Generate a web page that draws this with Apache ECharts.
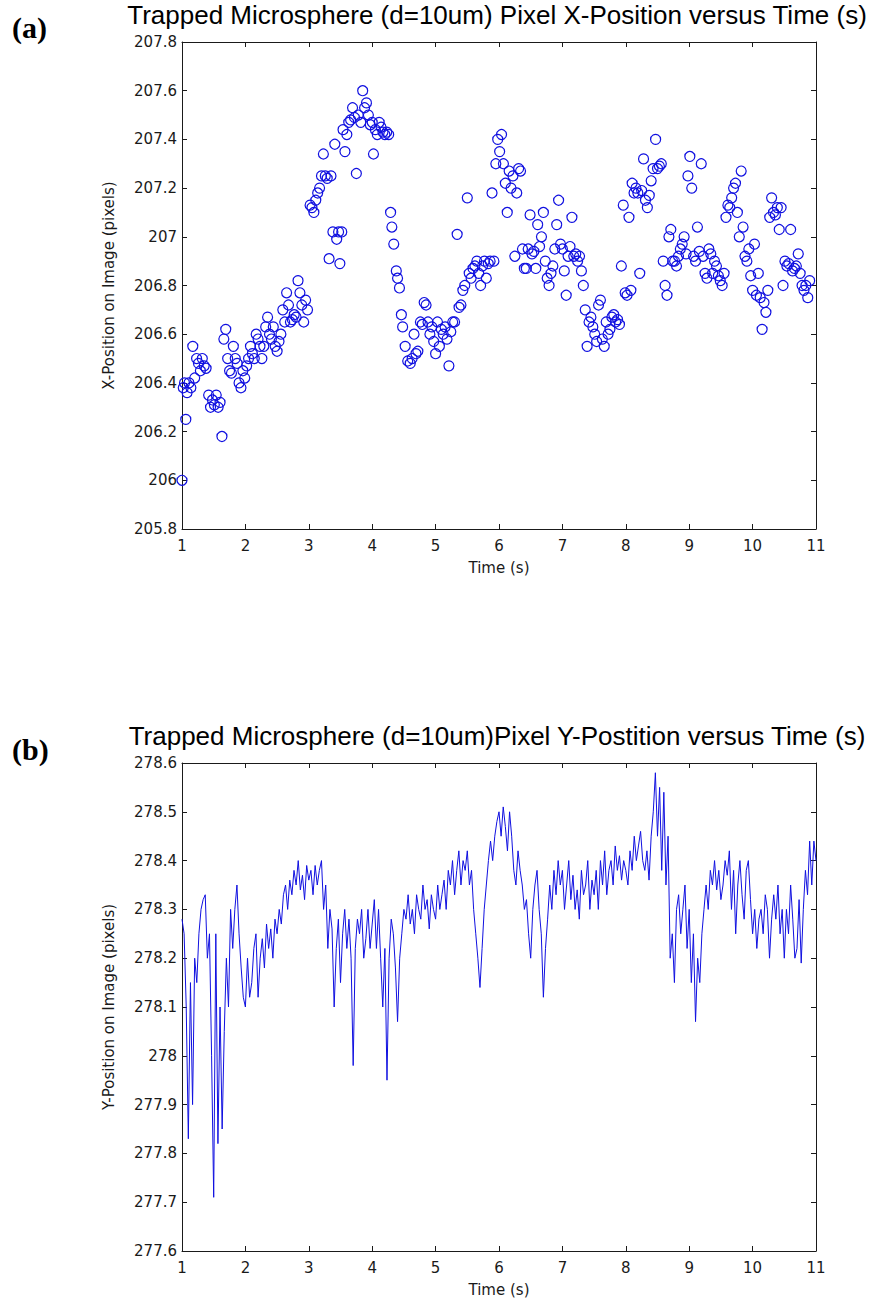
<!DOCTYPE html>
<html>
<head>
<meta charset="utf-8">
<style>
  html, body { margin: 0; padding: 0; background: #ffffff; }
  #chart { width: 875px; height: 1306px; }
</style>
<script src="https://cdn.jsdelivr.net/npm/echarts@6/dist/echarts.min.js"></script>
</head>
<body>
<div id="chart"></div>
<script>
// Panel (a): tracked X pixel position of the trapped bead, [time (s), x (px)]
const xPosition = [
  [1.00,206.00],[1.02,206.38],[1.04,206.40],[1.06,206.25],[1.08,206.36],[1.11,206.40],[1.14,206.38],[1.17,206.55],[1.20,206.42],[1.23,206.50],
  [1.26,206.48],[1.29,206.45],[1.32,206.50],[1.35,206.47],[1.38,206.46],[1.42,206.35],[1.45,206.30],[1.48,206.33],[1.51,206.31],[1.54,206.35],
  [1.57,206.30],[1.60,206.32],[1.63,206.18],[1.66,206.58],[1.69,206.62],[1.72,206.50],[1.75,206.45],[1.78,206.44],[1.81,206.55],[1.84,206.50],
  [1.87,206.48],[1.90,206.40],[1.93,206.38],[1.96,206.45],[1.99,206.42],[2.02,206.47],[2.05,206.50],[2.08,206.55],[2.11,206.52],[2.14,206.50],
  [2.17,206.60],[2.20,206.58],[2.23,206.55],[2.26,206.50],[2.29,206.55],[2.32,206.63],[2.35,206.67],[2.38,206.60],[2.41,206.58],[2.44,206.63],
  [2.47,206.55],[2.50,206.53],[2.53,206.57],[2.56,206.60],[2.59,206.70],[2.62,206.65],[2.65,206.77],[2.68,206.72],[2.71,206.65],[2.74,206.66],
  [2.77,206.68],[2.80,206.67],[2.83,206.82],[2.86,206.77],[2.89,206.72],[2.92,206.65],[2.95,206.74],[2.98,206.70],[3.02,207.13],[3.05,207.12],
  [3.08,207.10],[3.11,207.15],[3.14,207.18],[3.17,207.20],[3.20,207.25],[3.23,207.34],[3.26,207.25],[3.29,207.24],[3.32,206.91],[3.35,207.25],
  [3.38,207.02],[3.41,207.38],[3.44,206.99],[3.47,207.02],[3.49,206.89],[3.52,207.02],[3.54,207.44],[3.57,207.35],[3.60,207.42],[3.63,207.47],
  [3.66,207.48],[3.69,207.53],[3.72,207.49],[3.75,207.26],[3.78,207.50],[3.82,207.47],[3.85,207.60],[3.88,207.53],[3.91,207.55],[3.94,207.50],
  [3.97,207.46],[4.00,207.47],[4.02,207.34],[4.05,207.44],[4.08,207.42],[4.11,207.47],[4.14,207.45],[4.17,207.43],[4.20,207.42],[4.23,207.43],
  [4.26,207.42],[4.29,207.10],[4.31,207.04],[4.34,206.97],[4.38,206.86],[4.40,206.83],[4.43,206.79],[4.46,206.68],[4.48,206.63],[4.52,206.55],
  [4.56,206.49],[4.60,206.48],[4.63,206.50],[4.66,206.60],[4.69,206.52],[4.72,206.53],[4.76,206.65],[4.79,206.64],[4.82,206.73],[4.85,206.72],
  [4.88,206.65],[4.91,206.60],[4.94,206.63],[4.97,206.57],[5.00,206.52],[5.03,206.65],[5.06,206.55],[5.09,206.62],[5.12,206.60],[5.15,206.63],
  [5.18,206.58],[5.21,206.47],[5.24,206.61],[5.27,206.65],[5.30,206.65],[5.34,207.01],[5.37,206.71],[5.40,206.72],[5.43,206.78],[5.46,206.80],
  [5.50,207.16],[5.53,206.85],[5.56,206.83],[5.59,206.87],[5.62,206.88],[5.65,206.90],[5.68,206.85],[5.71,206.80],[5.74,206.88],[5.77,206.90],
  [5.80,206.83],[5.83,206.89],[5.86,206.90],[5.89,207.18],[5.92,206.90],[5.95,207.30],[5.98,207.40],[6.01,207.35],[6.04,207.42],[6.07,207.30],
  [6.10,207.22],[6.13,207.10],[6.16,207.27],[6.19,207.20],[6.22,207.25],[6.25,206.92],[6.28,207.18],[6.31,207.28],[6.34,207.27],[6.37,206.95],
  [6.40,206.87],[6.43,206.87],[6.46,206.95],[6.49,207.09],[6.52,206.93],[6.55,206.94],[6.58,206.87],[6.61,207.05],[6.64,206.96],[6.67,207.00],
  [6.70,207.10],[6.73,206.90],[6.76,206.83],[6.79,206.80],[6.82,206.85],[6.85,206.88],[6.88,206.95],[6.91,207.05],[6.94,207.15],[6.97,206.97],
  [7.00,206.95],[7.03,206.86],[7.06,206.76],[7.09,206.92],[7.12,206.96],[7.15,207.08],[7.18,206.92],[7.21,206.93],[7.24,206.90],[7.27,206.92],
  [7.30,206.86],[7.33,206.80],[7.36,206.70],[7.39,206.55],[7.42,206.65],[7.45,206.67],[7.48,206.63],[7.51,206.60],[7.54,206.57],[7.57,206.72],
  [7.60,206.74],[7.63,206.58],[7.66,206.55],[7.69,206.65],[7.72,206.60],[7.75,206.62],[7.78,206.67],[7.81,206.68],[7.84,206.65],[7.87,206.66],
  [7.90,206.64],[7.93,206.88],[7.96,207.13],[7.99,206.77],[8.02,206.76],[8.05,207.08],[8.08,206.78],[8.10,207.22],[8.13,207.18],[8.16,207.20],
  [8.19,207.18],[8.22,206.85],[8.25,207.19],[8.28,207.32],[8.31,207.15],[8.34,207.12],[8.37,207.17],[8.40,207.23],[8.43,207.28],[8.47,207.40],
  [8.50,207.28],[8.53,207.29],[8.56,207.30],[8.59,206.90],[8.62,206.80],[8.65,206.76],[8.68,207.00],[8.71,207.03],[8.74,206.90],[8.77,206.90],
  [8.80,206.88],[8.83,206.92],[8.86,206.95],[8.89,206.97],[8.92,207.00],[8.95,206.93],[8.98,207.25],[9.01,207.33],[9.04,207.20],[9.07,206.92],
  [9.10,206.90],[9.13,207.04],[9.16,206.94],[9.19,207.30],[9.22,206.92],[9.25,206.85],[9.28,206.83],[9.31,206.95],[9.34,206.93],[9.37,206.85],
  [9.40,206.90],[9.43,206.88],[9.46,206.84],[9.49,206.82],[9.52,206.80],[9.55,206.85],[9.58,207.08],[9.61,207.13],[9.64,207.12],[9.67,207.16],
  [9.70,207.20],[9.73,207.22],[9.76,207.10],[9.79,207.00],[9.82,207.27],[9.85,207.04],[9.88,206.92],[9.91,206.90],[9.94,206.95],[9.97,206.84],
  [10.00,206.78],[10.03,206.97],[10.06,206.76],[10.09,206.85],[10.12,206.75],[10.15,206.62],[10.18,206.73],[10.21,206.69],[10.24,206.78],[10.27,207.08],
  [10.30,207.16],[10.33,207.10],[10.36,207.09],[10.39,207.12],[10.42,207.03],[10.45,207.12],[10.48,206.80],[10.51,206.90],[10.54,206.88],[10.57,206.89],
  [10.60,207.03],[10.63,206.86],[10.66,206.87],[10.69,206.88],[10.72,206.93],[10.75,206.85],[10.78,206.80],[10.81,206.78],[10.84,206.80],[10.87,206.75],
  [10.90,206.82]
];

// Panel (b): tracked Y pixel position, one sample per video frame starting at t = 1 s
const frameRate = 30;
const startTime = 1;
const yPosition = [
  278.28,278.25,278.10,277.83,278.15,277.90,278.20,278.15,278.25,278.30,278.32,278.33,278.20,278.25,278.00,
  277.71,278.25,277.82,278.10,277.85,278.05,278.20,278.10,278.30,278.22,278.30,278.35,278.25,278.18,278.12,
  278.10,278.20,278.12,278.15,278.22,278.25,278.12,278.20,278.24,278.18,278.27,278.22,278.26,278.20,278.28,
  278.25,278.30,278.27,278.33,278.35,278.30,278.36,278.33,278.38,278.35,278.40,278.34,278.37,278.32,278.39,
  278.36,278.38,278.33,278.39,278.35,278.38,278.40,278.30,278.35,278.22,278.30,278.26,278.10,278.22,278.28,
  278.15,278.25,278.30,278.22,278.28,278.20,277.98,278.22,278.28,278.25,278.30,278.20,278.24,278.30,278.22,
  278.27,278.32,278.22,278.30,278.20,278.10,278.22,277.95,278.20,278.28,278.25,278.18,278.07,278.20,278.25,
  278.30,278.28,278.33,278.27,278.30,278.25,278.33,278.30,278.28,278.35,278.30,278.32,278.26,278.33,278.30,
  278.28,278.35,278.30,278.33,278.36,278.30,278.38,278.35,278.40,278.33,278.38,278.42,278.35,278.40,278.38,
  278.42,278.35,278.38,278.30,278.25,278.20,278.14,278.22,278.30,278.35,278.40,278.44,278.40,278.45,278.48,
  278.50,278.45,278.51,278.47,278.42,278.50,278.45,278.38,278.35,278.42,278.38,278.35,278.30,278.32,278.25,
  278.20,278.30,278.35,278.38,278.30,278.25,278.12,278.22,278.28,278.35,278.30,278.38,278.33,278.40,278.35,
  278.38,278.30,278.35,278.40,278.32,278.37,278.30,278.34,278.28,278.38,278.33,278.35,278.40,278.30,278.36,
  278.33,278.38,278.30,278.40,278.35,278.42,278.33,278.38,278.40,278.35,278.43,278.38,278.41,278.36,278.40,
  278.38,278.35,278.42,278.38,278.45,278.40,278.43,278.46,278.40,278.38,278.42,278.36,278.45,278.50,278.58,
  278.45,278.55,278.38,278.54,278.35,278.45,278.20,278.25,278.15,278.30,278.33,278.25,278.30,278.35,278.22,
  278.30,278.15,278.25,278.07,278.20,278.15,278.25,278.30,278.35,278.30,278.38,278.35,278.40,278.34,278.38,
  278.32,278.35,278.40,278.37,278.42,278.30,278.38,278.25,278.35,278.40,278.33,278.28,278.38,278.40,278.32,
  278.25,278.30,278.22,278.28,278.30,278.25,278.33,278.30,278.20,278.28,278.33,278.28,278.35,278.25,278.30,
  278.20,278.30,278.25,278.35,278.28,278.20,278.22,278.32,278.19,278.30,278.38,278.33,278.44,278.35,278.44,
  278.40
];

// Axis ranges and tick steps
const timeRange = { min: 1, max: 11, step: 1 };
const xPosRange = { min: 205.8, max: 207.8, step: 0.2 };
const yPosRange = { min: 277.6, max: 278.6, step: 0.1 };

const titles = [
  'Trapped Microsphere (d=10um) Pixel X-Position versus Time (s)',
  'Trapped Microsphere (d=10um)Pixel Y-Postition versus Time (s)'
];
const panelTags = ['(a)', '(b)'];
const yAxisNames = ['X-Position on Image (pixels)', 'Y-Position on Image (pixels)'];
const xAxisName = 'Time (s)';

const yLineData = yPosition.map((v, i) => [startTime + i / frameRate, v]);

const TITLE_FONT = "'Liberation Sans', Arial, Helvetica, sans-serif";
const FONT = "'DejaVu Sans', 'Liberation Sans', sans-serif";
const INK = '#1a1a1a';
const BLUE = '#1010e0';

const lineStyle = { color: INK, width: 1 };
const fmt = (v) => String(+v.toFixed(1));

function xAxisPair(gridIndex) {
  const base = {
    type: 'value', gridIndex,
    min: timeRange.min, max: timeRange.max, interval: timeRange.step,
    axisLine: { show: true, onZero: false, lineStyle },
    axisTick: { show: true, inside: true, length: 5, lineStyle },
    splitLine: { show: false }
  };
  return [
    Object.assign({}, base, {
      position: 'bottom',
      name: xAxisName, nameLocation: 'middle', nameGap: 31,
      nameTextStyle: { color: INK, fontSize: 15, fontFamily: FONT },
      axisLabel: { color: INK, fontSize: 15, fontFamily: FONT, margin: 9, formatter: fmt }
    }),
    Object.assign({}, base, { position: 'top', axisLabel: { show: false } })
  ];
}

function yAxisPair(gridIndex, range, name) {
  const base = {
    type: 'value', gridIndex,
    min: range.min, max: range.max, interval: range.step,
    axisLine: { show: true, onZero: false, lineStyle },
    axisTick: { show: true, inside: true, length: 5, lineStyle },
    splitLine: { show: false }
  };
  return [
    Object.assign({}, base, {
      position: 'left',
      name, nameLocation: 'middle', nameGap: 66,
      nameTextStyle: { color: INK, fontSize: 15, fontFamily: FONT },
      axisLabel: { color: INK, fontSize: 15, fontFamily: FONT, margin: 5, formatter: fmt }
    }),
    Object.assign({}, base, { position: 'right', axisLabel: { show: false } })
  ];
}

const chart = echarts.init(document.getElementById('chart'), null, { renderer: 'svg' });

chart.setOption({
  backgroundColor: '#ffffff',
  animation: false,
  grid: [
    { left: 182, top: 42, width: 634, height: 487 },
    { left: 182, top: 763, width: 634, height: 488 }
  ],
  xAxis: [...xAxisPair(0), ...xAxisPair(1)],
  yAxis: [...yAxisPair(0, xPosRange, yAxisNames[0]), ...yAxisPair(1, yPosRange, yAxisNames[1])],
  graphic: [
    { type: 'text', x: 497, y: 28, style: { text: titles[0], font: '26px ' + TITLE_FONT, fill: '#000', textAlign: 'center', textVerticalAlign: 'bottom' } },
    { type: 'text', x: 497, y: 749, style: { text: titles[1], font: '26px ' + TITLE_FONT, fill: '#000', textAlign: 'center', textVerticalAlign: 'bottom' } },
    { type: 'text', x: 12, y: 12, style: { text: panelTags[0], font: 'bold 30px "Liberation Serif", "Times New Roman", serif', fill: '#000' } },
    { type: 'text', x: 12, y: 734, style: { text: panelTags[1], font: 'bold 30px "Liberation Serif", "Times New Roman", serif', fill: '#000' } }
  ],
  series: [
    {
      type: 'scatter', xAxisIndex: 0, yAxisIndex: 0,
      data: xPosition,
      symbol: 'circle', symbolSize: 10,
      itemStyle: { color: 'rgba(0,0,0,0)', borderColor: BLUE, borderWidth: 1.2, opacity: 1 },
      emphasis: { disabled: true }
    },
    {
      type: 'line', xAxisIndex: 2, yAxisIndex: 2,
      data: yLineData,
      showSymbol: false, symbol: 'none',
      lineStyle: { color: BLUE, width: 1 },
      emphasis: { disabled: true }
    }
  ]
});
</script>
</body>
</html>
